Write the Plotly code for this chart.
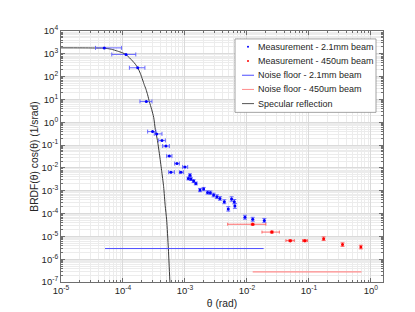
import plotly.graph_objects as go

# ---------------- data ----------------
# 2.1 mm beam, points with horizontal error bars
blue_h_theta = [5.0e-5, 1.12e-4, 1.73e-4, 2.38e-4, 3.0e-4, 3.5e-4, 4.26e-4,
                4.94e-4, 5.6e-4, 5.94e-4, 7.43e-4, 8.6e-4, 1.0e-3]
blue_h_val = [1820, 940, 245, 8.2, 0.39, 0.31, 0.16, 0.091, 0.033, 0.0065,
              0.0155, 0.0065, 0.011]
blue_h_lo = [3.6e-5, 6.6e-5, 1.27e-4, 1.88e-4, 2.5e-4, 3.2e-4, 3.77e-4,
             4.37e-4, 5.07e-4, 5.46e-4, 6.82e-4, 8.13e-4, 9.18e-4]
blue_h_hi = [9.5e-5, 1.61e-4, 2.26e-4, 2.94e-4, 3.4e-4, 4.26e-4, 4.83e-4,
             5.6e-4, 6.17e-4, 6.75e-4, 8.13e-4, 9.42e-4, 1.107e-3]

# 2.1 mm beam, points with vertical error bars
blue_v_theta = [1.135e-3, 1.205e-3, 1.25e-3, 1.38e-3, 1.50e-3, 1.75e-3,
                2.00e-3, 2.32e-3, 2.57e-3, 2.90e-3, 3.28e-3, 3.67e-3,
                4.32e-3, 5.0e-3, 5.66e-3, 6.26e-3, 6.4e-3, 9.3e-3,
                1.24e-2, 1.91e-2]
blue_v_val = [3.43e-3, 4.82e-3, 3.23e-3, 2.64e-3, 2.08e-3, 1.07e-3, 1.18e-3,
              8.4e-4, 8.2e-4, 6.5e-4, 5.5e-4, 4.6e-4, 3.3e-4, 1.6e-4,
              4.35e-4, 3.3e-4, 2.16e-4, 6.9e-5, 5.6e-5, 5.0e-5]
blue_v_errfac = [1.15, 1.15, 1.15, 1.15, 1.15, 1.18, 1.18, 1.18, 1.18, 1.2,
                 1.2, 1.2, 1.22, 1.25, 1.25, 1.25, 1.28, 1.22, 1.22, 1.22]

# 450 um beam
red_theta = [1.24e-2, 2.53e-2, 5.0e-2, 8.6e-2, 0.173, 0.349, 0.69]
red_val = [3.4e-5, 1.54e-5, 6.5e-6, 6.5e-6, 7.9e-6, 4.35e-6, 3.4e-6]
red_h_lo = [4.9e-3, 1.75e-2, 4.26e-2, 7.9e-2]
red_h_hi = [2.02e-2, 3.34e-2, 5.82e-2, 9.5e-2]
red_errfac = [1.1, 1.1, 1.1, 1.1, 1.2, 1.2, 1.2]

# noise floors
noise_blue_theta = [5.13e-5, 1.86e-2]
noise_blue_val = [2.92e-6, 2.92e-6]
noise_red_theta = [1.24e-2, 0.708]
noise_red_val = [2.8e-7, 2.8e-7]

# specular reflection curve
spec_theta = [1e-5, 2e-5, 3e-5, 4e-5, 5e-5, 6.5e-5, 8.2e-5, 9.7e-5, 1.117e-4,
              1.27e-4, 1.43e-4, 1.58e-4, 1.73e-4, 1.9e-4, 2.08e-4, 2.2e-4,
              2.35e-4, 2.5e-4, 2.67e-4, 2.9e-4, 3.13e-4, 3.33e-4, 3.6e-4,
              3.87e-4, 4.2e-4, 4.53e-4, 4.8e-4, 5.07e-4, 5.4e-4, 5.73e-4,
              5.9e-4]
spec_val = [1824, 1820, 1807, 1790, 1770, 1585, 1310, 1120, 933, 676, 482,
            355, 246, 141, 71, 45, 28, 16, 7.9, 3.7, 1.65, 0.47, 0.16, 0.042,
            0.0079, 0.0015, 2.2e-4, 5.3e-5, 2.9e-6, 9.3e-8, 2.5e-8]

legend_labels = ["Measurement - 2.1mm beam", "Measurement - 450um beam",
                 "Noise floor - 2.1mm beam", "Noise floor - 450um beam",
                 "Specular reflection"]

x_ticks = [1e-5, 1e-4, 1e-3, 1e-2, 1e-1, 1e0]
x_ticktext = ["10<sup>-5</sup>", "10<sup>-4</sup>", "10<sup>-3</sup>",
              "10<sup>-2</sup>", "10<sup>-1</sup>", "10<sup>0</sup>"]
y_exps = [4, 3, 2, 1, 0, -1, -2, -3, -4, -5, -6, -7]

# ---------------- styling ----------------
FONT = "Liberation Sans, Arial, Helvetica, sans-serif"
BLUE = "#0000ff"
BLUE_BAR = "#5a5aff"
RED = "#ff0000"
RED_BAR = "#ff5a5a"
NOISE_BLUE = "#4d4dff"
NOISE_RED = "#ff8c8c"
SPEC = "#3a3a3a"
AXIS = "#6e6e6e"

fig = go.Figure()

# specular
fig.add_trace(go.Scatter(x=spec_theta, y=spec_val, mode="lines",
                         line=dict(color=SPEC, width=1, shape="spline", smoothing=0.6),
                         showlegend=False, name=legend_labels[4]))
# noise floors
fig.add_trace(go.Scatter(x=noise_blue_theta, y=noise_blue_val, mode="lines",
                         line=dict(color=NOISE_BLUE, width=1),
                         showlegend=False, name=legend_labels[2]))
fig.add_trace(go.Scatter(x=noise_red_theta, y=noise_red_val, mode="lines",
                         line=dict(color=NOISE_RED, width=1.3),
                         showlegend=False, name=legend_labels[3]))

# blue, horizontal bars
fig.add_trace(go.Scatter(
    x=blue_h_theta, y=blue_h_val, mode="markers",
    marker=dict(color=BLUE, size=3),
    error_x=dict(type="data", symmetric=False,
                 array=[h - t for h, t in zip(blue_h_hi, blue_h_theta)],
                 arrayminus=[t - l for l, t in zip(blue_h_lo, blue_h_theta)],
                 color=BLUE_BAR, thickness=0.9, width=2),
    showlegend=False, name=legend_labels[0]))
# blue, vertical bars
fig.add_trace(go.Scatter(
    x=blue_v_theta, y=blue_v_val, mode="markers",
    marker=dict(color=BLUE, size=3),
    error_y=dict(type="data", symmetric=False,
                 array=[v * f - v for v, f in zip(blue_v_val, blue_v_errfac)],
                 arrayminus=[v - v / f for v, f in zip(blue_v_val, blue_v_errfac)],
                 color=BLUE_BAR, thickness=0.9, width=2),
    showlegend=False, name=legend_labels[0]))

# red, horizontal bars (first points)
n_h = len(red_h_lo)
fig.add_trace(go.Scatter(
    x=red_theta[:n_h], y=red_val[:n_h], mode="markers",
    marker=dict(color=RED, size=3),
    error_x=dict(type="data", symmetric=False,
                 array=[h - t for h, t in zip(red_h_hi, red_theta)],
                 arrayminus=[t - l for l, t in zip(red_h_lo, red_theta)],
                 color=RED_BAR, thickness=0.9, width=1.5),
    showlegend=False, name=legend_labels[1]))
# red, vertical bars (all points)
fig.add_trace(go.Scatter(
    x=red_theta, y=red_val, mode="markers",
    marker=dict(color=RED, size=3),
    error_y=dict(type="data", symmetric=False,
                 array=[v * f - v for v, f in zip(red_val, red_errfac)],
                 arrayminus=[v - v / f for v, f in zip(red_val, red_errfac)],
                 color=RED_BAR, thickness=0.9, width=2),
    showlegend=False, name=legend_labels[1]))

# ---------------- custom legend (MATLAB-like, compact) ----------------
W, H = 415, 312
ML, MR, MT, MB = 53, 40, 23, 36
PW, PH = W - ML - MR, H - MT - MB


def px_to_paper_x(px):
    return (px - ML) / PW


def px_to_paper_y(py):
    return (H - MB - py) / PH


leg_left, leg_right, leg_top, leg_bottom = 227, 368, 31, 105
row0, row_step = 39, 14.3
sym_l, sym_r, txt_x = 234, 246, 247.5

shapes = [dict(type="rect", xref="paper", yref="paper",
               x0=px_to_paper_x(leg_left), x1=px_to_paper_x(leg_right),
               y0=px_to_paper_y(leg_bottom), y1=px_to_paper_y(leg_top),
               line=dict(color="#8c8c8c", width=0.8), fillcolor="white",
               layer="above")]
annotations = []
sym_styles = [("dot", BLUE), ("dot", RED), ("line", NOISE_BLUE),
              ("line", NOISE_RED), ("line", "#555555")]
for i, (lab, (kind, col)) in enumerate(zip(legend_labels, sym_styles)):
    py = row0 + i * row_step
    yp = px_to_paper_y(py)
    if kind == "dot":
        shapes.append(dict(type="circle", xref="paper", yref="paper",
                           xsizemode="pixel", ysizemode="pixel",
                           xanchor=px_to_paper_x((sym_l + sym_r) / 2), yanchor=yp,
                           x0=-1, x1=1, y0=-1, y1=1,
                           fillcolor=col, line=dict(width=0), layer="above"))
    else:
        shapes.append(dict(type="line", xref="paper", yref="paper",
                           x0=px_to_paper_x(sym_l), x1=px_to_paper_x(sym_r),
                           y0=yp, y1=yp, line=dict(color=col, width=1),
                           layer="above"))
    annotations.append(dict(text=lab, xref="paper", yref="paper",
                            x=px_to_paper_x(txt_x), y=yp, xanchor="left",
                            yanchor="middle", showarrow=False,
                            font=dict(family=FONT, size=9, color="#262626")))

# minor ticks for log axes
x_minor = [m * 10.0 ** e for e in range(-5, 1) for m in range(2, 10)]
y_minor = [m * 10.0 ** e for e in range(-7, 4) for m in range(2, 10)]

axis_common = dict(type="log", showline=True, linecolor=AXIS, linewidth=1,
                   mirror="allticks", ticks="inside", ticklen=4, tickwidth=0.8,
                   tickcolor=AXIS, showgrid=True, gridcolor="#dadada",
                   gridwidth=0.8, zeroline=False,
                   tickfont=dict(family=FONT, size=9.5, color="#262626"))

fig.update_layout(
    width=W, height=H,
    margin=dict(l=ML, r=MR, t=MT, b=MB),
    paper_bgcolor="white", plot_bgcolor="white",
    font=dict(family=FONT, color="#262626"),
    showlegend=False,
    shapes=shapes, annotations=annotations,
    xaxis=dict(**axis_common, range=[-5, 0.196],
               tickmode="array", tickvals=x_ticks, ticktext=x_ticktext,
               minor=dict(tickmode="array", tickvals=x_minor, ticks="inside",
                          ticklen=2, tickcolor=AXIS, showgrid=True,
                          gridcolor="#ececec", gridwidth=0.8),
               title=dict(text="θ (rad)", font=dict(size=10.3), standoff=4)),
    yaxis=dict(**axis_common, range=[-7, 4],
               tickmode="array", tickvals=[10.0 ** e for e in y_exps],
               ticktext=["10<sup>%d</sup>" % e for e in y_exps],
               minor=dict(tickmode="array", tickvals=y_minor, ticks="inside",
                          ticklen=2, tickcolor=AXIS, showgrid=True,
                          gridcolor="#ececec", gridwidth=0.8),
               title=dict(text="BRDF(θ) cos(θ) (1/srad)", font=dict(size=10.3),
                          standoff=1)),
)

fig.write_html("out.html")
